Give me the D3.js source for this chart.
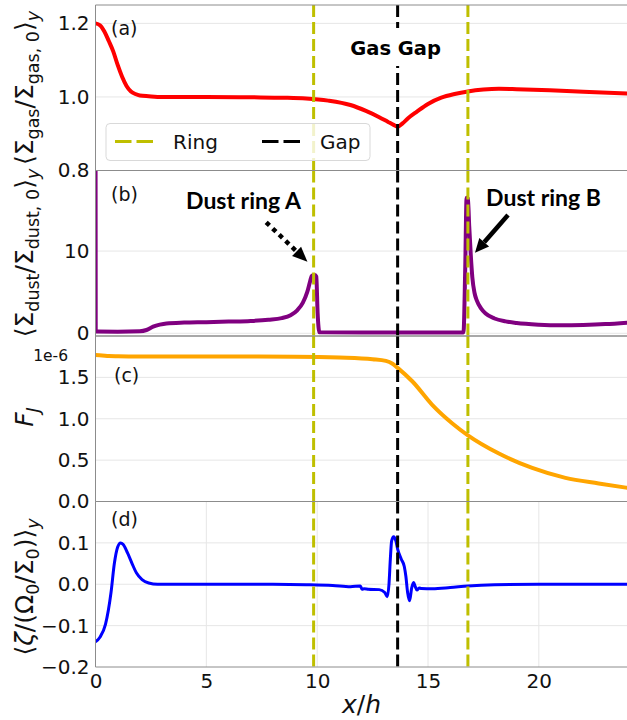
<!DOCTYPE html>
<html>
<head>
<meta charset="utf-8">
<script src="https://cdn.jsdelivr.net/npm/d3@7"></script>
<style>
  html, body { margin: 0; padding: 0; background: #fff; }
  svg { display: block; }
</style>
</head>
<body>
<svg id="chart" width="627" height="720" font-family="DejaVu Sans"></svg>
<script>
// ---- data -------------------------------------------------------------
// (a) azimuthally averaged gas surface density
const gasX = [0, 0.2, 0.4, 0.6, 0.8, 1.0, 1.2, 1.4, 1.6, 1.8, 2.0, 2.4, 3, 5, 7, 8.5, 9.5, 10.5, 11.5, 12.2, 12.8, 13.2, 13.45, 13.63, 13.85, 14.1, 14.5, 15, 15.6, 16.2, 16.8, 17.5, 18.2, 19, 20.5, 22, 24];
const gasY = [1.2, 1.195, 1.178, 1.152, 1.124, 1.087, 1.055, 1.03, 1.015, 1.008, 1.004, 1.002, 1.0, 1.0, 0.999, 0.998, 0.996, 0.99, 0.978, 0.962, 0.945, 0.932, 0.924, 0.919, 0.928, 0.942, 0.96, 0.981, 0.998, 1.008, 1.015, 1.02, 1.022, 1.021, 1.018, 1.014, 1.009];

// (b) azimuthally averaged dust surface density
const dustX = [0, 0.01, 0.1, 1, 2, 2.3, 2.6, 2.9, 3.2, 4, 5, 6, 7, 7.8, 8.4, 8.8, 9.1, 9.35, 9.55, 9.68, 9.76, 9.9, 9.96, 10.02, 10.1, 12, 14, 16.6, 16.68, 16.74, 16.8, 16.86, 16.93, 17.0, 17.1, 17.2, 17.4, 17.6, 18, 18.5, 19, 20, 21, 22, 23, 24];
const dustY = [30, 0.25, 0.22, 0.2, 0.25, 0.4, 0.8, 1.05, 1.2, 1.3, 1.35, 1.42, 1.5, 1.65, 1.85, 2.2, 2.8, 3.7, 5.0, 6.3, 7.0, 7.1, 6.9, 2.5, 0.12, 0.1, 0.1, 0.1, 8, 16.5, 16.4, 13, 9.5, 6.8, 4.9, 4.0, 3.0, 2.4, 1.8, 1.45, 1.25, 1.05, 0.98, 1.02, 1.12, 1.3];

// (c) angular momentum flux F_J, in units of 1e-6
const fluxX = [0, 0.3, 0.6, 1, 1.5, 3, 6, 9, 11, 12.5, 13.1, 13.4, 13.63, 14.3, 15.2, 16.1, 16.8, 18.2, 19.7, 21.2, 22.7, 24];
const fluxY = [1.77, 1.765, 1.757, 1.754, 1.752, 1.752, 1.752, 1.75, 1.74, 1.72, 1.70, 1.665, 1.615, 1.45, 1.165, 0.943, 0.80, 0.58, 0.406, 0.286, 0.218, 0.165];

// (d) azimuthally averaged vortensity perturbation
const vortX = [0, 0.2, 0.45, 0.7, 0.85, 1.0, 1.13, 1.25, 1.45, 1.65, 1.85, 2.1, 2.4, 2.8, 4, 6, 8, 9.5, 10.7, 11.5, 11.95, 12.02, 12.12, 12.3, 12.8, 13.05, 13.16, 13.24, 13.3, 13.36, 13.45, 13.55, 13.63, 13.8, 13.93, 14.0, 14.08, 14.17, 14.26, 14.35, 14.42, 14.5, 14.6, 14.7, 15.2, 16, 16.8, 18, 20, 24];
const vortY = [-0.139, -0.128, -0.097, -0.02, 0.05, 0.09, 0.1, 0.096, 0.075, 0.05, 0.027, 0.011, 0.003, 0.0, 0, 0, 0, -0.001, -0.003, -0.006, -0.004, -0.012, -0.011, -0.012, -0.013, -0.02, -0.03, 0.0, 0.06, 0.105, 0.115, 0.105, 0.085, 0.06, 0.043, 0.02, -0.02, -0.04, -0.01, 0.004, -0.005, -0.014, -0.009, -0.01, -0.011, -0.008, -0.004, -0.001, 0, 0];

// reference radii
const ringX = [9.84, 16.8];
const gapX = [13.63];

// tick values
const xTicks = [0, 5, 10, 15, 20];
const gasTicks = [0.8, 1.0, 1.2];
const dustTicks = [0, 10];
const fluxTicks = [0.0, 0.5, 1.0, 1.5];
const vortTicks = [-0.2, -0.1, 0.0, 0.1];

// ---- layout -----------------------------------------------------------
const svg = d3.select("#chart");
const left = 95.5, right = 627.5;
const x = d3.scaleLinear().domain([0, 24]).range([left, right]);

const panels = [
  { id: "a", top: 5, bottom: 170.5, domain: [0.8, 1.25], xs: gasX, ys: gasY, color: "#ff0000", width: 4, ticks: gasTicks, fmt: d3.format(".1f"), tag: "(a)", tagPos: [111, 35] },
  { id: "b", top: 170.5, bottom: 336, domain: [-0.33, 19.8], xs: dustX, ys: dustY, color: "#800080", width: 4, ticks: dustTicks, fmt: d3.format("d"), tag: "(b)", tagPos: [111, 201] },
  { id: "c", top: 336, bottom: 501.5, domain: [0, 2.0], xs: fluxX, ys: fluxY, color: "#ffa500", width: 4, ticks: fluxTicks, fmt: d3.format(".1f"), tag: "(c)", tagPos: [114, 382] },
  { id: "d", top: 501.5, bottom: 667, domain: [-0.2, 0.2], xs: vortX, ys: vortY, color: "#0000ff", width: 3, ticks: vortTicks, fmt: d3.format(".1f"), tag: "(d)", tagPos: [111, 526], xgrid: true }
];

const defs = svg.append("defs");

panels.forEach(p => {
  const y = d3.scaleLinear().domain(p.domain).range([p.bottom, p.top]);
  p.y = y;
  const g = svg.append("g").attr("class", "panel-" + p.id);

  defs.append("clipPath").attr("id", "clip-" + p.id)
    .append("rect").attr("x", left).attr("y", p.top)
    .attr("width", right - left).attr("height", p.bottom - p.top);

  // grid
  const grid = g.append("g").attr("stroke", "#e6e6e6").attr("stroke-width", 1);
  grid.selectAll("line.h").data(p.ticks.filter(t => y(t) > p.top + 1 && y(t) < p.bottom - 1))
    .join("line").attr("class", "h")
    .attr("x1", left).attr("x2", right)
    .attr("y1", d => y(d)).attr("y2", d => y(d));
  if (p.xgrid) {
    grid.selectAll("line.v").data(xTicks.filter(t => t > 0))
      .join("line").attr("class", "v")
      .attr("x1", d => x(d)).attr("x2", d => x(d))
      .attr("y1", p.top).attr("y2", p.bottom);
  }

  // curve
  const pts = p.xs.map((v, i) => [v, p.ys[i]]);
  g.append("path")
    .attr("clip-path", "url(#clip-" + p.id + ")")
    .attr("d", d3.line().x(d => x(d[0])).y(d => y(d[1])).curve(d3.curveMonotoneX)(pts))
    .attr("fill", "none")
    .attr("stroke", p.color)
    .attr("stroke-width", p.width)
    .attr("stroke-linejoin", "round");

  // reference lines
  g.selectAll("line.ring").data(ringX).join("line").attr("class", "ring")
    .attr("x1", d => x(d)).attr("x2", d => x(d))
    .attr("y1", p.top).attr("y2", p.bottom)
    .attr("stroke", "#bfbf00").attr("stroke-width", 3)
    .attr("stroke-dasharray", "12,5");
  g.selectAll("line.gap").data(gapX).join("line").attr("class", "gap")
    .attr("x1", d => x(d)).attr("x2", d => x(d))
    .attr("y1", p.top).attr("y2", p.bottom)
    .attr("stroke", "#000").attr("stroke-width", 3)
    .attr("stroke-dasharray", "12,5");

  // spines
  const sp = g.append("g").attr("stroke", "#8c8c8c").attr("stroke-width", 1);
  sp.append("line").attr("x1", left).attr("x2", right).attr("y1", p.top).attr("y2", p.top);
  sp.append("line").attr("x1", left).attr("x2", right).attr("y1", p.bottom).attr("y2", p.bottom);
  sp.append("line").attr("x1", left).attr("x2", left).attr("y1", p.top).attr("y2", p.bottom);

  // y axis
  const ax = g.append("g").attr("transform", `translate(${left},0)`)
    .call(d3.axisLeft(y).tickValues(p.ticks).tickFormat(p.fmt).tickSize(0).tickPadding(6));
  ax.select(".domain").remove();
  ax.attr("font-family", "DejaVu Sans").attr("font-size", 20);
  ax.selectAll("text").attr("fill", "#111");

  // panel tag
  g.append("text").attr("x", p.tagPos[0]).attr("y", p.tagPos[1])
    .attr("font-size", 19).attr("fill", "#111").text(p.tag);
});

// x axis (bottom panel)
const last = panels[3];
const xa = svg.append("g").attr("transform", `translate(0,${last.bottom})`)
  .call(d3.axisBottom(x).tickValues(xTicks).tickFormat(d3.format("d")).tickSize(0).tickPadding(7));
xa.select(".domain").remove();
xa.attr("font-family", "DejaVu Sans").attr("font-size", 20);
xa.selectAll("text").attr("fill", "#111");

// offset text for F_J
svg.append("text").attr("x", 68).attr("y", 361).attr("text-anchor", "end")
  .attr("font-size", 15.5).attr("fill", "#111").text("1e-6");

// ---- axis labels (math-style, built from tspans) -----------------------
function mathLabel(parent, cx, cy, parts, rotate, size) {
  const t = parent.append("text")
    .attr("transform", `translate(${cx},${cy})` + (rotate ? " rotate(-90)" : ""))
    .attr("text-anchor", "middle").attr("font-size", size).attr("fill", "#111");
  let shift = 0;
  parts.forEach(pt => {
    const target = pt.sub ? size * 0.22 : 0;
    const ts = t.append("tspan").text(pt.t)
      .attr("dy", target - shift)
      .attr("font-size", pt.sub ? size * 0.7 : size);
    if (pt.it) ts.attr("font-style", "italic");
    shift = target;
  });
  return t;
}

mathLabel(svg, 33, 88, [
  { t: "\u27E8\u03A3" }, { t: "gas", sub: true }, { t: "/\u03A3" }, { t: "gas, 0", sub: true },
  { t: "\u27E9" }, { t: "y", sub: true, it: true }
], true, 25);

mathLabel(svg, 33, 253, [
  { t: "\u27E8\u03A3" }, { t: "dust", sub: true }, { t: "/\u03A3" }, { t: "dust, 0", sub: true },
  { t: "\u27E9" }, { t: "y", sub: true, it: true }
], true, 25);

mathLabel(svg, 33, 417, [
  { t: "F", it: true }, { t: "J", sub: true, it: true }
], true, 25);

mathLabel(svg, 33, 587, [
  { t: "\u27E8" }, { t: "\u03B6", it: true }, { t: "/(\u03A9" }, { t: "0", sub: true },
  { t: "/\u03A3" }, { t: "0", sub: true }, { t: ")\u27E9" }, { t: "y", sub: true, it: true }
], true, 25);

mathLabel(svg, (left + right) / 2, 713, [
  { t: "x", it: true }, { t: "/" }, { t: "h", it: true }
], false, 25);

// ---- annotations --------------------------------------------------------
const yb = panels[1].y;

// "Gas Gap" label with white box over the gap line
const gasGap = svg.append("g");
gasGap.append("rect").attr("x", x(gapX[0]) - 48).attr("y", 28).attr("width", 96).attr("height", 38).attr("fill", "#fff");
gasGap.append("text").attr("x", x(gapX[0]) - 2).attr("y", 55).attr("text-anchor", "middle")
  .attr("font-family", "DejaVu Sans").attr("font-size", 19.5).attr("font-weight", "bold")
  .attr("fill", "#000").text("Gas Gap");

// arrow heads
function arrowHead(g, from, to, len, wid) {
  const dx = to[0] - from[0], dy = to[1] - from[1];
  const L = Math.hypot(dx, dy), ux = dx / L, uy = dy / L;
  const bx = to[0] - ux * len, by = to[1] - uy * len;
  g.append("path")
    .attr("d", `M${to[0]},${to[1]}L${bx - uy * wid / 2},${by + ux * wid / 2}L${bx + uy * wid / 2},${by - ux * wid / 2}Z`)
    .attr("fill", "#000");
  return [bx, by];
}

// Dust ring A: dotted arrow
const annA = { text: "Dust ring A", textX: 243.5, textY: 208.5, from: [7.7, 13.5], to: [9.56, 8.7] };
const aFrom = [x(annA.from[0]), yb(annA.from[1])], aTo = [x(annA.to[0]), yb(annA.to[1])];
const gA = svg.append("g");
const aBase = arrowHead(gA, aFrom, aTo, 15, 13);
gA.append("line").attr("x1", aFrom[0]).attr("y1", aFrom[1]).attr("x2", aBase[0]).attr("y2", aBase[1])
  .attr("stroke", "#000").attr("stroke-width", 4.5).attr("stroke-dasharray", "4.5,4.5");
gA.append("text").attr("x", annA.textX).attr("y", annA.textY).attr("text-anchor", "middle")
  .attr("font-family", "Lato").attr("font-weight", "bold").attr("font-size", 23).attr("fill", "#000")
  .text(annA.text);

// Dust ring B: solid arrow
const annB = { text: "Dust ring B", textX: 543.5, textY: 206, from: [18.61, 14.4], to: [17.12, 9.8] };
const bFrom = [x(annB.from[0]), yb(annB.from[1])], bTo = [x(annB.to[0]), yb(annB.to[1])];
const gB = svg.append("g");
const bBase = arrowHead(gB, bFrom, bTo, 14, 13);
gB.append("line").attr("x1", bFrom[0]).attr("y1", bFrom[1]).attr("x2", bBase[0]).attr("y2", bBase[1])
  .attr("stroke", "#000").attr("stroke-width", 4.5);
gB.append("text").attr("x", annB.textX).attr("y", annB.textY).attr("text-anchor", "middle")
  .attr("font-family", "Lato").attr("font-weight", "bold").attr("font-size", 23).attr("fill", "#000")
  .text(annB.text);

// ---- legend -------------------------------------------------------------
const lg = svg.append("g");
lg.append("rect").attr("x", 106).attr("y", 123.5).attr("width", 264).attr("height", 37).attr("rx", 4)
  .attr("fill", "#fff").attr("fill-opacity", 0.8).attr("stroke", "#d9d9d9");
const legendItems = [
  { label: "Ring", color: "#bfbf00", x0: 115 },
  { label: "Gap", color: "#000", x0: 262 }
];
legendItems.forEach(it => {
  lg.append("line").attr("x1", it.x0).attr("x2", it.x0 + 42).attr("y1", 141.5).attr("y2", 141.5)
    .attr("stroke", it.color).attr("stroke-width", 3).attr("stroke-dasharray", "16.5,5");
  lg.append("text").attr("x", it.x0 + 58).attr("y", 148.5).attr("font-size", 20).attr("fill", "#111").text(it.label);
});
</script>
</body>
</html>
